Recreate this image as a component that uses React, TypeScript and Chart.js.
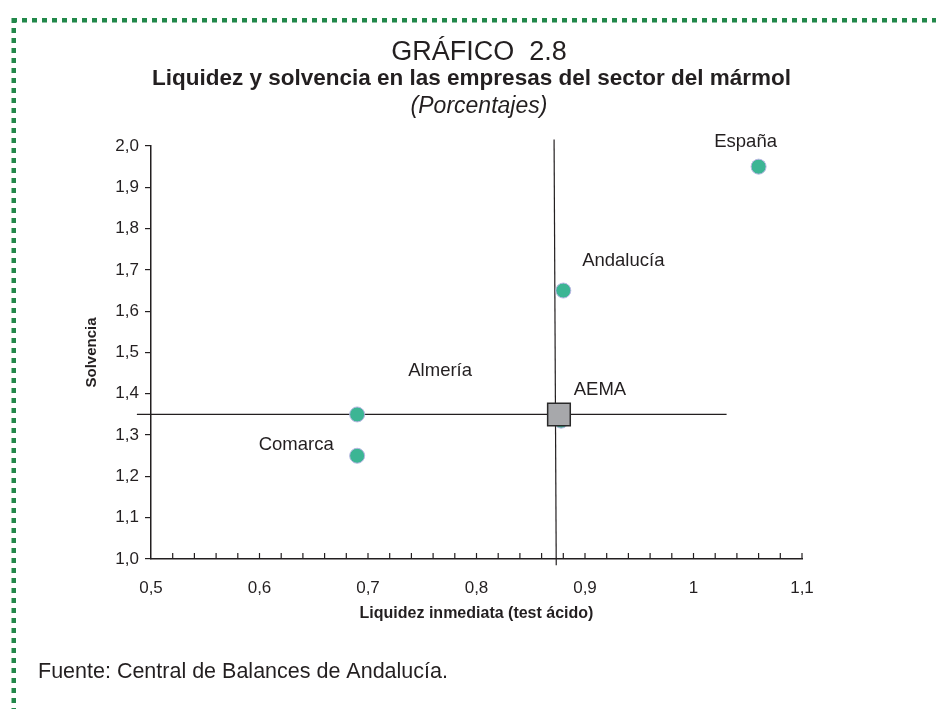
import React, { useEffect, useRef } from "react";
import { Chart, registerables } from "chart.js";

Chart.register(...registerables);

const regionNames = ["Almería", "Comarca", "Andalucía", "España", "AEMA"];
const liquidez = [0.69, 0.69, 0.88, 1.06, 0.878];
const solvencia = [1.35, 1.25, 1.65, 1.95, 1.335];
const aemaPoint = { x: 0.876, y: 1.35 };
const crossH = [{ x: 0.487, y: 1.35 }, { x: 1.0305, y: 1.35 }];
const crossV = [{ x: 0.8715, y: 2.016 }, { x: 0.8735, y: 0.985 }];
const labelOffsets = [[83, -44], [-61, -11], [60, -30], [-13, -25], [41, -25]];
const xTickStep = 0.1;
const xMinorStep = 0.02;
const yTickStep = 0.1;

const FONT = "'Liberation Sans', Arial, Helvetica, sans-serif";
const INK = "#231f20";

const overlayPlugin = {
  id: "overlay",
  afterDatasetsDraw(chart: any) {
    const ctx = chart.ctx;
    const meta = chart.getDatasetMeta(1);
    ctx.save();
    ctx.font = `18.5px ${FONT}`;
    ctx.fillStyle = INK;
    ctx.textAlign = "center";
    ctx.textBaseline = "middle";
    meta.data.forEach((el: any, i: number) => {
      const [dx, dy] = labelOffsets[i];
      if (i === 4) {
        const sq = chart.getDatasetMeta(0).data[0];
        ctx.fillText(regionNames[i], sq.x + dx, sq.y + dy);
      } else {
        ctx.fillText(regionNames[i], el.x + dx, el.y + dy);
      }
    });
    const xs = chart.scales.x;
    const bottom = chart.chartArea.bottom;
    ctx.strokeStyle = INK;
    ctx.lineWidth = 1.2;
    const n = Math.round((xs.max - xs.min) / xMinorStep);
    for (let k = 1; k <= n; k++) {
      const v = xs.min + k * xMinorStep;
      const px = xs.getPixelForValue(v);
      ctx.beginPath();
      ctx.moveTo(px, bottom);
      ctx.lineTo(px, bottom - 6);
      ctx.stroke();
    }
    ctx.restore();
  },
  afterDraw(chart: any) {
    const ctx = chart.ctx;
    const W = chart.width;
    const H = chart.height;
    ctx.save();
    ctx.fillStyle = "#22884a";
    for (let x = 12; x < W; x += 10) ctx.fillRect(x, 18, 5, 4.5);
    for (let y = 18; y < H; y += 10) ctx.fillRect(11.5, y, 4.5, 5);
    ctx.fillStyle = INK;
    ctx.textBaseline = "alphabetic";
    ctx.textAlign = "center";
    ctx.font = `27px ${FONT}`;
    ctx.fillText("GRÁFICO  2.8", 479, 60);
    ctx.textAlign = "left";
    ctx.font = `bold 22.5px ${FONT}`;
    ctx.fillText("Liquidez y solvencia en las empresas del sector del mármol", 152, 85);
    ctx.textAlign = "center";
    ctx.font = `italic 23px ${FONT}`;
    ctx.fillText("(Porcentajes)", 479, 113);
    ctx.textAlign = "left";
    ctx.font = `21.5px ${FONT}`;
    ctx.fillText("Fuente: Central de Balances de Andalucía.", 38, 678);
    ctx.restore();
  },
};

export default function App() {
  const ref = useRef<HTMLCanvasElement>(null);
  useEffect(() => {
    if (!ref.current) return;
    const chart = new Chart(ref.current, {
      type: "scatter",
      data: {
        datasets: [
          {
            label: "AEMA",
            data: [aemaPoint],
            pointStyle: "rect",
            pointRadius: 16,
            backgroundColor: "#a7a8ab",
            borderColor: "#2a2a2a",
            borderWidth: 1.5,
            clip: false,
          } as any,
          {
            label: "Regiones",
            data: liquidez.map((x, i) => ({ x, y: solvencia[i] })),
            pointRadius: 7.5,
            backgroundColor: "#3cb594",
            borderColor: "#b9b6e3",
            borderWidth: 1,
            clip: false,
          } as any,
          {
            label: "h",
            data: crossH,
            showLine: true,
            pointRadius: 0,
            borderColor: INK,
            borderWidth: 1.2,
            clip: false,
          } as any,
          {
            label: "v",
            data: crossV,
            showLine: true,
            pointRadius: 0,
            borderColor: INK,
            borderWidth: 1.2,
            clip: false,
          } as any,
        ],
      },
      options: {
        animation: false,
        responsive: false,
        devicePixelRatio: 1,
        layout: { padding: { left: 0, right: 134, top: 146, bottom: 0 } },
        plugins: {
          legend: { display: false },
          tooltip: { enabled: false },
          title: { display: false },
        },
        scales: {
          x: {
            type: "linear",
            min: 0.5,
            max: 1.1,
            afterFit: (s: any) => { s.height = 150; },
            ticks: {
              stepSize: xTickStep,
              padding: 19,
              color: INK,
              font: { family: FONT, size: 17 },
              callback: (v: any) => String(Number(Number(v).toFixed(1))).replace(".", ","),
            },
            grid: { drawOnChartArea: false, drawTicks: false },
            border: { display: true, color: INK, width: 1.5 },
            title: {
              display: true,
              text: "Liquidez inmediata (test ácido)",
              color: INK,
              font: { family: FONT, size: 16, weight: "bold" },
              padding: { top: 0, bottom: 86 },
            },
          },
          y: {
            type: "linear",
            min: 1.0,
            max: 2.0,
            afterFit: (s: any) => { s.width = 151; },
            ticks: {
              stepSize: yTickStep,
              padding: 6,
              color: INK,
              font: { family: FONT, size: 17 },
              callback: (v: any) => Number(v).toFixed(1).replace(".", ","),
            },
            grid: { drawOnChartArea: false, drawTicks: true, tickLength: 6, color: INK, lineWidth: 1.2 },
            border: { display: true, color: INK, width: 1.5 },
            title: {
              display: true,
              text: "Solvencia",
              color: INK,
              font: { family: FONT, size: 15, weight: "bold" },
              padding: { top: 83, bottom: 0 },
            },
          },
        },
      } as any,
      plugins: [overlayPlugin],
    });
    return () => chart.destroy();
  }, []);
  return (
    <div style={{ position: "absolute", left: 0, top: 0, width: 936, height: 709, background: "#fff" }}>
      <canvas ref={ref} width={936} height={709} style={{ width: 936, height: 709, display: "block" }} />
    </div>
  );
}
